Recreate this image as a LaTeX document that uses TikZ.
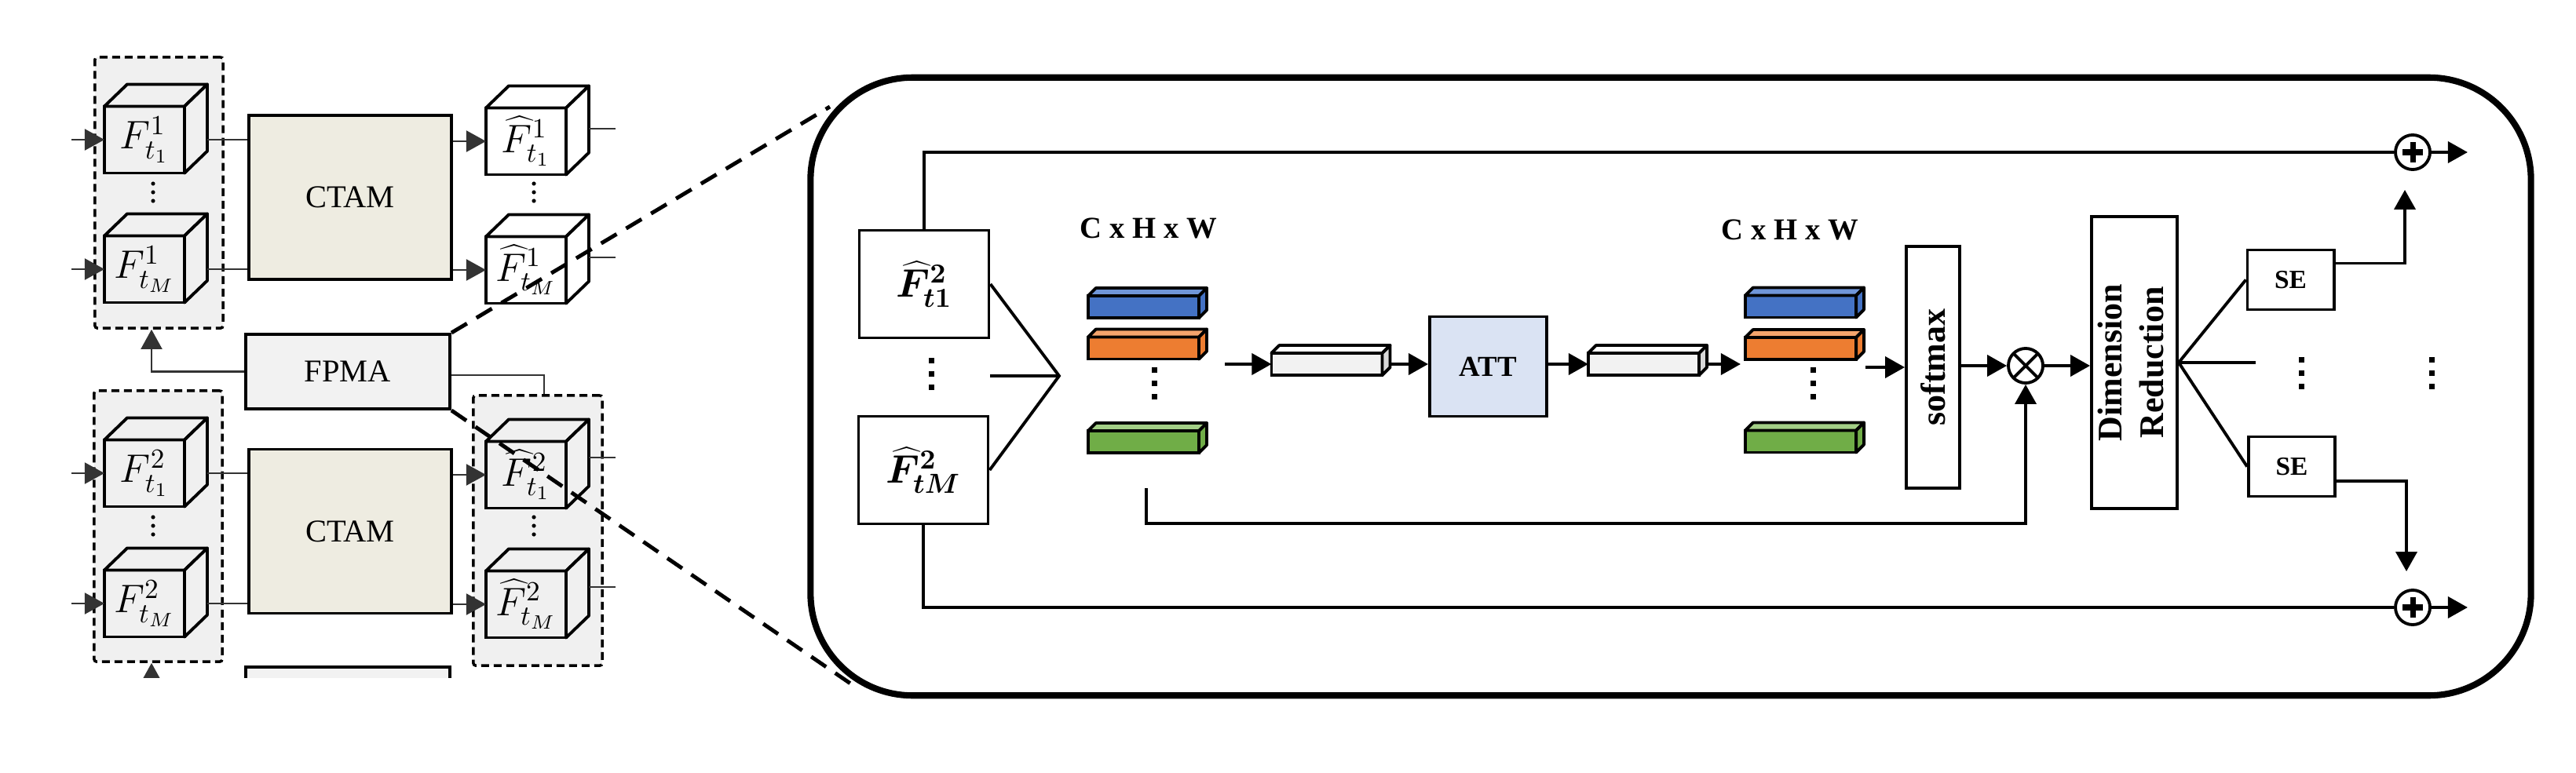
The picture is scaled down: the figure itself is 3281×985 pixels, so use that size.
\documentclass[tikz,border=0pt]{standalone}
\usepackage[no-math]{fontspec}
\setmainfont{Liberation Serif}
\usepackage{bm}
\usetikzlibrary{arrows.meta,calc,positioning}

\definecolor{boxgray}{HTML}{F0F0F0}
\definecolor{ctamfill}{HTML}{EEECE1}
\definecolor{fpmafill}{HTML}{F2F2F2}
\definecolor{attfill}{HTML}{DAE3F3}
\definecolor{barblue}{HTML}{4472C4}
\definecolor{barbluetop}{HTML}{7096D9}
\definecolor{barorange}{HTML}{ED7D31}
\definecolor{barorangetop}{HTML}{F4A46C}
\definecolor{bargreen}{HTML}{70AD47}
\definecolor{bargreentop}{HTML}{A3CF86}
\definecolor{vecfront}{HTML}{F2F2F2}
\definecolor{vecside}{HTML}{D9D9D9}

\newcommand{\featcube}[4]{%
\node[cubeface,fill=#4] (#1) at (#2) {#3};
\draw[cubeedge,fill=#4] (#1.north west) -- ([shift={(29,-28)}]#1.north west) -- ([shift={(29,-28)}]#1.north east) -- (#1.north east) -- cycle;
\draw[cubeedge,fill=#4] (#1.north east) -- ([shift={(29,-28)}]#1.north east) -- ([shift={(29,-28)}]#1.south east) -- (#1.south east) -- cycle;
}
\newcommand{\featbar}[5]{%
\node[barface,fill=#3] (#1) at (#2) {};
\draw[baredge,fill=#4] (#1.north west) -- ([shift={(10,-10)}]#1.north west) -- ([shift={(10,-10)}]#1.north east) -- (#1.north east) -- cycle;
\draw[baredge,fill=#5] (#1.north east) -- ([shift={(10,-10)}]#1.north east) -- ([shift={(10,-10)}]#1.south east) -- (#1.south east) -- cycle;
}
\newcommand{\sqdots}[1]{%
\foreach \k in {-1,0,1} \fill (#1) ++(-3.5,\k*17-3.5) rectangle ++(7,7);
}
\newcommand{\rddots}[1]{%
\foreach \k in {-1,0,1} \fill (#1) ++(0,\k*11) circle (2.6);
}

\begin{document}
\begin{tikzpicture}[x=0.01cm,y=-0.01cm,inner sep=0.4mm,
  cubeface/.style={draw,line width=1.1pt,outer sep=0pt,inner sep=0pt,minimum width=1.02cm,minimum height=0.85cm,font=\fontsize{14}{16}\selectfont},
  cubeedge/.style={line width=1.1pt,line join=round},
  dashbox/.style={draw,fill=boxgray,line width=1pt,dash pattern=on 0.1cm off 0.06cm,rounded corners=0.03cm,minimum width=1.63cm,minimum height=3.45cm},
  ctambox/.style={draw,fill=ctamfill,line width=1.1pt,minimum width=2.58cm,minimum height=2.09cm,font=\fontsize{11.5}{13}\selectfont},
  fpmabox/.style={draw,fill=fpmafill,line width=1.1pt,minimum width=2.6cm,minimum height=0.95cm,font=\fontsize{11.5}{13}\selectfont},
  thinline/.style={draw=black!80,line width=0.6pt},
  thinarrow/.style={thinline,-{Triangle[length=0.25cm,width=0.27cm]}},
  zoomline/.style={line width=1.4pt,dash pattern=on 0.23cm off 0.14cm},
  bigframe/.style={draw,line width=2.3pt,rounded corners=1.3cm,minimum width=21.9cm,minimum height=7.87cm},
  featbox/.style={draw,line width=1.1pt,minimum width=1.65cm,minimum height=1.37cm,font=\fontsize{14}{16}\selectfont},
  wire/.style={line width=1.1pt},
  flow/.style={wire,-{Triangle[length=0.25cm,width=0.27cm]}},
  barface/.style={draw,line width=1.1pt,outer sep=0pt,inner sep=0pt,minimum width=1.41cm,minimum height=0.28cm},
  baredge/.style={line width=1.1pt,line join=round},
  attbox/.style={draw,fill=attfill,line width=1.1pt,minimum width=1.49cm,minimum height=1.27cm,font=\bfseries\fontsize{10.5}{12}\selectfont},
  tallbox/.style={draw,line width=1.1pt,inner sep=0pt,font=\bfseries\fontsize{12.5}{15}\selectfont},
  sebox/.style={draw,line width=1.1pt,minimum width=1.1cm,minimum height=0.76cm,font=\bfseries\fontsize{9.5}{11}\selectfont},
  sumnode/.style={circle,draw,line width=1.1pt,minimum size=0.44cm,inner sep=0pt,
    path picture={\draw[line width=2pt] ([xshift=-0.13cm]path picture bounding box.center) -- ([xshift=0.13cm]path picture bounding box.center);
      \draw[line width=2pt] ([yshift=-0.13cm]path picture bounding box.center) -- ([yshift=0.13cm]path picture bounding box.center);}},
  mulnode/.style={circle,draw,line width=1.1pt,minimum size=0.44cm,inner sep=0pt,
    path picture={\draw[line width=1.1pt] (path picture bounding box.north west) -- (path picture bounding box.south east)
      (path picture bounding box.north east) -- (path picture bounding box.south west);}},
  dimlabel/.style={font=\bfseries\fontsize{11}{12}\selectfont}]
\useasboundingbox (0,0) rectangle (3281,985);

\node[dashbox] (grpA) at (202.5,245.5) {};
\node[dashbox] (grpB) at (201.5,670.5) {};
\node[dashbox,minimum width=1.64cm,minimum height=3.44cm] (grpD) at (685,676) {};

\featcube{cA1}{184,178}{$F^{1}_{t_1}$}{boxgray}
\featcube{cAM}{184,343}{$F^{1}_{t_M}$}{boxgray}
\featcube{cB1}{184,603}{$F^{2}_{t_1}$}{boxgray}
\featcube{cBM}{184,769}{$F^{2}_{t_M}$}{boxgray}
\featcube{hA1}{670,180}{$\widehat{F}^{1}_{t_1}$}{white}
\featcube{hAM}{670,344}{$\widehat{F}^{1}_{t_M}$}{white}
\featcube{hB1}{670,605}{$\widehat{F}^{2}_{t_1}$}{boxgray}
\featcube{hBM}{670,770}{$\widehat{F}^{2}_{t_M}$}{boxgray}
\rddots{195,245}
\rddots{195,670}
\rddots{680,245}
\rddots{680,670}

\node[ctambox] (ctamA) at (446,251.5) {CTAM};
\node[ctambox] (ctamB) at (446,677) {CTAM};
\node[fpmabox] (fpmaA) at (443,473.5) {FPMA};

\draw[thinarrow] ([xshift=-0.42cm]cA1.west) -- (cA1.west);
\draw[thinarrow] ([xshift=-0.42cm]cAM.west) -- (cAM.west);
\draw[thinarrow] ([xshift=-0.42cm]cB1.west) -- (cB1.west);
\draw[thinarrow] ([xshift=-0.42cm]cBM.west) -- (cBM.west);
\draw[thinline] ([xshift=0.29cm]cA1.east) -- (ctamA.west |- cA1.east);
\draw[thinline] ([xshift=0.29cm]cAM.east) -- (ctamA.west |- cAM.east);
\draw[thinline] ([xshift=0.29cm]cB1.east) -- (ctamB.west |- cB1.east);
\draw[thinline] ([xshift=0.29cm]cBM.east) -- (ctamB.west |- cBM.east);
\draw[thinarrow] (ctamA.east |- hA1.west) -- (hA1.west);
\draw[thinarrow] (ctamA.east |- hAM.west) -- (hAM.west);
\draw[thinarrow] (ctamB.east |- hB1.west) -- (hB1.west);
\draw[thinarrow] (ctamB.east |- hBM.west) -- (hBM.west);
\draw[thinline] ([shift={(29,-16)}]hA1.east) -- ++(34,0);
\draw[thinline] ([shift={(29,-16)}]hAM.east) -- ++(34,0);
\draw[thinline] ([shift={(29,-22)}]hB1.east) -- ++(34,0);
\draw[thinline] ([shift={(29,-22)}]hBM.east) -- ++(34,0);
\draw[thinarrow] (fpmaA.west) -| ([xshift=-0.095cm]grpA.south);
\draw[thinline] ([yshift=-0.045cm]fpmaA.east) -| ([xshift=0.08cm]grpD.north);

\begin{scope}
\clip (0,0) rectangle (1000,863);
\node[fpmabox] (fpmaB) at (443,897.5) {};
\draw[thinarrow] (fpmaB.west) -| ([xshift=-0.085cm]grpB.south);
\end{scope}

\node[bigframe] (detail) at (2128,492.5) {};
\coordinate (zoomA) at (1057,136);
\coordinate (zoomB) at (1092,877);
\draw[zoomline] (fpmaA.north east) -- (zoomA);
\draw[zoomline] (fpmaA.south east) -- (zoomB);

\node[featbox] (fA) at (1177,362) {$\bm{\widehat{F}^{2}_{t1}}$};
\node[featbox] (fM) at (1176,599) {$\bm{\widehat{F}^{2}_{tM}}$};
\sqdots{1186,476}
\coordinate (fanA) at (1349,479);
\draw[wire] (fA.east) -- (fanA) -- (fM.east);
\draw[wire] (fanA) -- (fanA -| fA.east);

\node[dimlabel] (shapeA) at (1463,291) {C x H x W};
\featbar{blueA}{1456.5,391}{barblue}{barbluetop}{barblue}
\featbar{orangeA}{1456.5,443.5}{barorange}{barorangetop}{barorange}
\featbar{greenA}{1456.5,563}{bargreen}{bargreentop}{bargreen}
\sqdots{1470,488}
\featbar{vecA}{1690,464}{vecfront}{white}{vecside}
\node[attbox] (att) at (1895.5,467) {ATT};
\featbar{vecB}{2093.5,464}{vecfront}{white}{vecside}
\node[dimlabel] (shapeB) at (2280,293) {C x H x W};
\featbar{blueB}{2293.5,390.5}{barblue}{barbluetop}{barblue}
\featbar{orangeB}{2293.5,444}{barorange}{barorangetop}{barorange}
\featbar{greenB}{2293.5,562.5}{bargreen}{bargreentop}{bargreen}
\sqdots{2309,488}
\node[tallbox,minimum width=0.68cm,minimum height=3.08cm] (soft) at (2462,468) {\rotatebox{90}{softmax}};
\node[mulnode] (mul) at (2580,466) {};
\node[tallbox,minimum width=1.09cm,minimum height=3.72cm] (dimred) at (2718.5,462) {\rotatebox{90}{\begin{tabular}{@{}c@{}}Dimension\\Reduction\end{tabular}}};
\node[sebox] (seA) at (2917.5,356.5) {SE};
\node[sebox] (seB) at (2919,594.5) {SE};
\sqdots{2931,475}
\sqdots{3097,475}
\node[sumnode] (sumA) at (3073,194) {};
\node[sumnode] (sumB) at (3073,774) {};

\draw[flow] ([xshift=-0.59cm]vecA.west) -- (vecA.west);
\draw[flow] ([xshift=0.1cm]vecA.east) -- (att.west |- vecA.east);
\draw[flow] (att.east |- vecB.west) -- (vecB.west);
\draw[flow] ([xshift=0.1cm]vecB.east) -- ([xshift=-0.06cm]orangeB.west |- vecB.east);
\draw[flow] ($(orangeB.east |- soft.west)+(12,0)$) -- (soft.west);
\draw[flow] (soft.east |- mul.west) -- (mul.west);
\draw[flow] (mul.east) -- (dimred.west |- mul.east);
\coordinate (skipA) at (1460,622);
\draw[flow] (skipA) -- ++(0,45) -| (mul.south);
\draw[wire] (dimred.east) -- (seA.west);
\draw[wire] (dimred.east) -- (seB.west);
\draw[wire] (dimred.east) -- ++(98,0);
\draw[flow] ($(seA.east)+(0,-21)$) -| ($(sumA.south)+(-10,24)$);
\draw[flow] ($(seB.east)+(0,18.5)$) -| ($(sumB.north)+(-8,-22)$);
\draw[wire] (fA.north) |- (sumA.west);
\draw[wire] (fM.south) |- (sumB.west);
\draw[flow] (sumA.east) -- ++(46,0);
\draw[flow] (sumB.east) -- ++(46,0);
\end{tikzpicture}
\end{document}
